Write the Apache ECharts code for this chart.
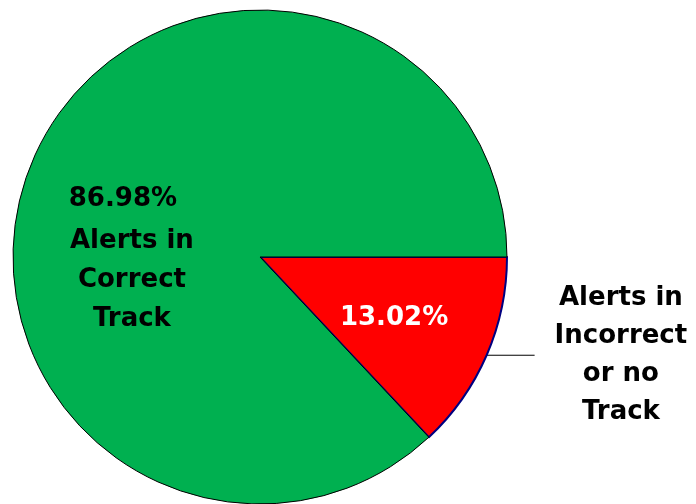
<!DOCTYPE html>
<html><head><meta charset="utf-8">
<script src="https://cdn.jsdelivr.net/npm/echarts@6/dist/echarts.min.js"></script>
<style>html,body{margin:0;padding:0;background:#fff}#c{width:696px;height:504px}</style>
</head><body><div id="c"></div>
<script>
// Data
var categories = ['Alerts in Incorrect or no Track', 'Alerts in Correct Track'];
var values = [13.02, 86.98];
var insideTexts = ['13.02%', '86.98%\nAlerts in\nCorrect\nTrack'];
var outsideTexts = ['Alerts in\nIncorrect\nor no\nTrack', ''];
var colors = ['#FF0000', '#00B050'];

var FONT = 'DejaVu Sans';
var chart = echarts.init(document.getElementById('c'), null, {renderer: 'canvas'});

var dataA = categories.map(function (n, i) {
  return {
    name: n, value: values[i],
    itemStyle: {color: colors[i], borderColor: i === 0 ? '#000080' : '#000000', borderWidth: i === 0 ? 2 : 1},
    label: i === 0 ? {
      formatter: insideTexts[i], color: '#ffffff', fontSize: 26, fontWeight: 'bold', fontFamily: FONT
    } : {
      formatter: function () {
        var lines = insideTexts[1].split('\n');
        return '{p|' + lines[0] + '  }\n' + lines.slice(1).map(function (l) { return '{n|' + l + '}'; }).join('\n');
      },
      rich: {
        p: {fontSize: 26, fontWeight: 'bold', fontFamily: FONT, color: '#000', lineHeight: 46, align: 'center'},
        n: {fontSize: 26, fontWeight: 'bold', fontFamily: FONT, color: '#000', lineHeight: 39, align: 'center'}
      }
    }
  };
});

var dataB = categories.map(function (n, i) {
  return {
    name: n, value: values[i],
    itemStyle: {color: 'rgba(0,0,0,0)', borderWidth: 0},
    label: {show: i === 0},
    labelLine: {show: i === 0}
  };
});

chart.setOption({
  animation: false,
  series: [{
    type: 'pie',
    center: [260, 257],
    radius: 247,
    startAngle: 0,
    clockwise: true,
    silent: true,
    label: {position: 'inside', show: true},
    labelLine: {show: false},
    labelLayout: function (p) {
      if (p.dataIndex === 1) return {dx: -12, dy: 51};
      return {dx: 18, dy: 11};
    },
    emphasis: {disabled: true},
    data: dataA
  }, {
    type: 'pie',
    center: [260, 257],
    radius: 247,
    startAngle: 0,
    clockwise: true,
    silent: true,
    avoidLabelOverlap: false,
    emphasis: {disabled: true},
    label: {
      position: 'outside',
      alignTo: 'none',
      distanceToLabelLine: 20,
      formatter: function (p) {
        return outsideTexts[p.dataIndex].split('\n').map(function (l) { return '{c|' + l + '}'; }).join('\n');
      },
      rich: {
        c: {fontSize: 26, fontWeight: 'bold', fontFamily: FONT, color: '#000', lineHeight: 38, align: 'center'}
      }
    },
    labelLine: {length: 0, length2: 48, lineStyle: {color: '#000', width: 1}},
    data: dataB
  }]
});
</script></body></html>
